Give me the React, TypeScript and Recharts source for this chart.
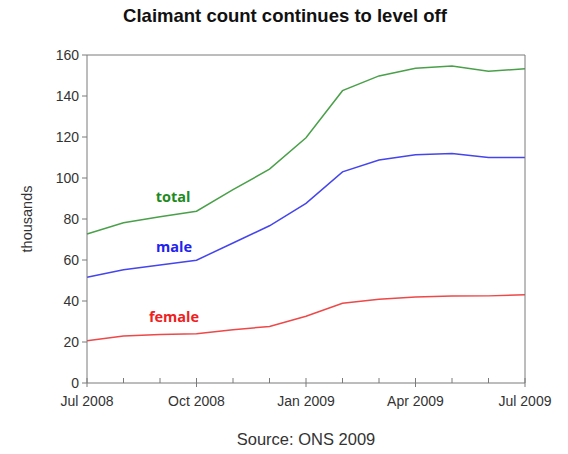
import { LineChart, Line, XAxis, YAxis, ReferenceLine, ReferenceDot } from 'recharts';

// monthly claimant count, thousands
const months = [
  'Jul 2008', 'Aug 2008', 'Sep 2008', 'Oct 2008', 'Nov 2008', 'Dec 2008',
  'Jan 2009', 'Feb 2009', 'Mar 2009', 'Apr 2009', 'May 2009', 'Jun 2009', 'Jul 2009',
];
const total = [72.7, 78.2, 81.1, 83.8, 94.3, 104.3, 119.6, 142.6, 149.8, 153.5, 154.6, 152.1, 153.3];
const male = [51.6, 55.2, 57.6, 59.9, 68.3, 76.7, 87.6, 103.0, 108.8, 111.3, 112.0, 110.0, 110.0];
const female = [20.6, 22.9, 23.6, 24.0, 26.0, 27.6, 32.6, 38.9, 40.9, 41.9, 42.4, 42.5, 43.1];
const quarterLabels = ['Jul 2008', 'Oct 2008', 'Jan 2009', 'Apr 2009', 'Jul 2009'];
const yTicks = [0, 20, 40, 60, 80, 100, 120, 140, 160];

const data = months.map((month, i) => ({
  month,
  total: total[i],
  male: male[i],
  female: female[i],
}));

const FONT = '"Liberation Sans", Arial, sans-serif';
const AXIS = '#7a7a7a';
const TEXT = '#333';

// every month gets a short inward tick; quarters also get an outward tick and a label
const MonthTick = (props: any) => {
  const { x, y, payload } = props;
  const labelled = quarterLabels.includes(payload.value);
  return (
    <g>
      <line x1={x} x2={x} y1={y - 5} y2={labelled ? y + 4 : y} stroke={AXIS} strokeWidth={1} />
      {labelled && (
        <text x={x} y={y + 23} textAnchor="middle" fontSize={14} fill={TEXT} fontFamily={FONT}>
          {payload.value}
        </text>
      )}
    </g>
  );
};

const seriesLabel = (value: string, fill: string, dx: number) => ({
  value,
  position: 'center' as const,
  dx,
  fill,
  fontSize: 14.5,
  fontWeight: 700,
  fontFamily: '"Open Sans", sans-serif',
});

export default function App() {
  return (
    <div style={{ position: 'absolute', left: 0, top: 0, width: 568, height: 454, background: '#fff' }}>
      <div
        style={{
          position: 'absolute', left: 0, top: 5, width: 570, textAlign: 'center',
          fontFamily: FONT, fontWeight: 700, fontSize: 18.5, color: '#111',
        }}
      >
        Claimant count continues to level off
      </div>

      <LineChart
        width={568}
        height={454}
        data={data}
        margin={{ top: 55, right: 3, bottom: 41, left: 47 }}
      >
        <XAxis
          dataKey="month"
          interval={0}
          tickSize={0}
          tickMargin={0}
          tickLine={false}
          height={30}
          stroke={AXIS}
          tick={<MonthTick />}
        />
        <YAxis
          yAxisId="left"
          domain={[0, 160]}
          ticks={yTicks}
          width={40}
          tickSize={5}
          tickMargin={3}
          stroke={AXIS}
          tick={{ fontSize: 14, fill: TEXT, fontFamily: FONT }}
          label={{ value: 'thousands', angle: -90, position: 'center', dx: -40, fontSize: 14.5, fill: TEXT, fontFamily: FONT }}
        />
        <YAxis
          yAxisId="right"
          orientation="right"
          domain={[0, 160]}
          ticks={yTicks}
          width={40}
          tickSize={5}
          tickMargin={3}
          stroke={AXIS}
          tick={{ fontSize: 14, fill: TEXT, fontFamily: FONT, textAnchor: 'start' }}
        />
        {/* top edge of the frame */}
        <ReferenceLine yAxisId="left" y={160} stroke={AXIS} strokeWidth={1} />

        <Line yAxisId="left" type="linear" dataKey="total" stroke="#4aa04a" strokeWidth={1.5} dot={false} isAnimationActive={false} />
        <Line yAxisId="left" type="linear" dataKey="male" stroke="#4545ee" strokeWidth={1.5} dot={false} isAnimationActive={false} />
        <Line yAxisId="left" type="linear" dataKey="female" stroke="#ee4848" strokeWidth={1.5} dot={false} isAnimationActive={false} />

        <ReferenceDot yAxisId="left" x="Sep 2008" y={90.7} r={0} fill="none" stroke="none" label={seriesLabel('total', '#1f8a1f', 13)} />
        <ReferenceDot yAxisId="left" x="Sep 2008" y={66.3} r={0} fill="none" stroke="none" label={seriesLabel('male', '#2222ee', 14)} />
        <ReferenceDot yAxisId="left" x="Sep 2008" y={32.2} r={0} fill="none" stroke="none" label={seriesLabel('female', '#ee2020', 14)} />
      </LineChart>

      <div
        style={{
          position: 'absolute', left: 0, top: 430, width: 612, textAlign: 'center',
          fontFamily: FONT, fontSize: 16.5, color: TEXT,
        }}
      >
        Source: ONS 2009
      </div>
    </div>
  );
}
